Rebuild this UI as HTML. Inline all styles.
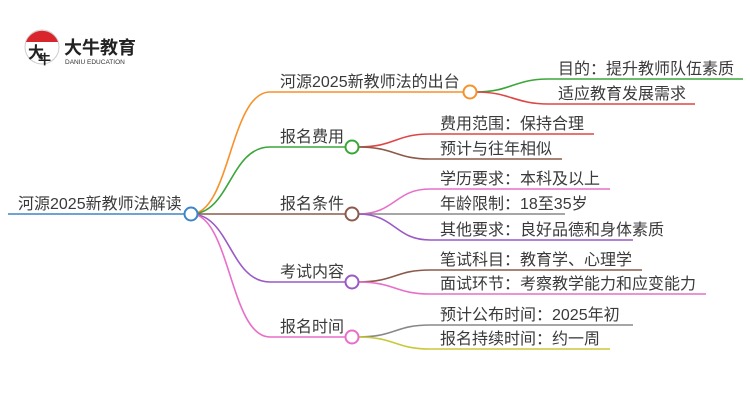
<!DOCTYPE html>
<html><head><meta charset="utf-8"><style>
html,body{margin:0;padding:0;background:#fff;}
svg text{font-family:"Liberation Sans","Noto Sans CJK SC",sans-serif;fill:#3a3a3a;}
</style></head><body>
<svg width="750" height="410" viewBox="0 0 750 410" xmlns="http://www.w3.org/2000/svg">
<!-- logo -->
<circle cx="42" cy="47" r="17" fill="#fff" stroke="#ccc" stroke-width="1"/>
<path d="M26 42 A17 17 0 0 1 58 42 Z" fill="#d8262c"/>
<text x="28" y="58" font-size="16" style="fill:#222" font-weight="bold">大</text>
<text x="38" y="64" font-size="13" style="fill:#222" font-weight="bold">牛</text>
<text x="64" y="54" font-size="18" font-weight="bold" style="fill:#222">大牛教育</text>
<text x="65" y="64" font-size="6.5" style="fill:#333">DANIU EDUCATION</text>

<g fill="none" stroke-width="1.6">
<line x1="8" y1="214" x2="185" y2="214" stroke="#3d85c6"/>
<path d="M191 214 C230 214 230 92 270 92 L464 92" stroke="#f7912a"/>
<path d="M191 214 C230 214 230 147 270 147 L346 147" stroke="#3aa63a"/>
<path d="M191 214 L346 214" stroke="#8b5a4a"/>
<path d="M191 214 C230 214 230 282 270 282 L346 282" stroke="#9b59c6"/>
<path d="M191 214 C230 214 230 337 270 337 L346 337" stroke="#e86fc8"/>
<path d="M476 92 C510 92 515 79 548 79 L743 79" stroke="#3aa63a"/>
<path d="M476 92 C510 92 515 104 548 104 L695 104" stroke="#e04545"/>
<path d="M358 147 C395 147 395 134 430 134 L594 134" stroke="#e04545"/>
<path d="M358 147 C395 147 395 159 430 159 L562 159" stroke="#8b5a4a"/>
<path d="M358 214 C395 214 395 189 430 189 L610 189" stroke="#e86fc8"/>
<path d="M358 214 L565 214" stroke="#888"/>
<path d="M358 214 C395 214 395 240 430 240 L633 240" stroke="#9b59c6"/>
<path d="M358 282 C395 282 395 270 430 270 L642 270" stroke="#8b5a4a"/>
<path d="M358 282 C395 282 395 294 430 294 L706 294" stroke="#e86fc8"/>
<path d="M358 337 C395 337 395 325 430 325 L633 325" stroke="#888"/>
<path d="M358 337 C395 337 395 349 430 349 L610 349" stroke="#c8c83a"/>
</g>
<circle cx="191" cy="214" r="6.5" fill="#fff" stroke="#3d85c6" stroke-width="2"/>
<circle cx="470" cy="92" r="6.5" fill="#fff" stroke="#f7912a" stroke-width="2"/>
<circle cx="352" cy="147" r="6.5" fill="#fff" stroke="#3aa63a" stroke-width="2"/>
<circle cx="352" cy="214" r="6.5" fill="#fff" stroke="#8b5a4a" stroke-width="2"/>
<circle cx="352" cy="282" r="6.5" fill="#fff" stroke="#9b59c6" stroke-width="2"/>
<circle cx="352" cy="337" r="6.5" fill="#fff" stroke="#e86fc8" stroke-width="2"/>

<g font-size="16">
<text x="18" y="209">河源2025新教师法解读</text>
<text x="280" y="87">河源2025新教师法的出台</text>
<text x="280" y="142">报名费用</text>
<text x="280" y="209">报名条件</text>
<text x="280" y="277">考试内容</text>
<text x="280" y="332">报名时间</text>
<text x="558" y="74">目的：提升教师队伍素质</text>
<text x="558" y="99">适应教育发展需求</text>
<text x="440" y="129">费用范围：保持合理</text>
<text x="440" y="154">预计与往年相似</text>
<text x="440" y="184">学历要求：本科及以上</text>
<text x="440" y="209">年龄限制：18至35岁</text>
<text x="440" y="235">其他要求：良好品德和身体素质</text>
<text x="440" y="265">笔试科目：教育学、心理学</text>
<text x="440" y="289">面试环节：考察教学能力和应变能力</text>
<text x="440" y="320">预计公布时间：2025年初</text>
<text x="440" y="344">报名持续时间：约一周</text>
</g>
</svg>
</body></html>
